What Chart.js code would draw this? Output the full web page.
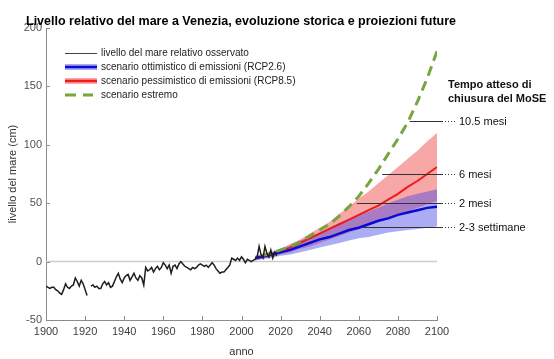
<!DOCTYPE html>
<html><head><meta charset="utf-8">
<script src="https://cdn.jsdelivr.net/npm/chart.js@4.4.0/dist/chart.umd.min.js"></script>
<style>html,body{margin:0;padding:0;background:#fff;}#wrap{width:554px;height:359px;position:relative;}</style>
</head><body><div id="wrap"><canvas id="c" width="554" height="359"></canvas></div>
<script>
const FONT = '"Liberation Sans", Arial, sans-serif';
const titleText = 'Livello relativo del mare a Venezia, evoluzione storica e proiezioni future';
const xTicks = [1900,1920,1940,1960,1980,2000,2020,2040,2060,2080,2100];
const yTicks = [-50,0,50,100,150,200];

const obsYears = [1900,1901,1902,1903,1904,1905,1906,1907,1908,1909,1910,1911,1912,1913,1914,1915,1916,1917,1918,1919,1920,1921,1922,1923,1924,1925,1926,1927,1928,1929,1930,1931,1932,1933,1934,1935,1936,1937,1938,1939,1940,1941,1942,1943,1944,1945,1946,1947,1948,1949,1950,1951,1952,1953,1954,1955,1956,1957,1958,1959,1960,1961,1962,1963,1964,1965,1966,1967,1968,1969,1970,1971,1972,1973,1974,1975,1976,1977,1978,1979,1980,1981,1982,1983,1984,1985,1986,1987,1988,1989,1990,1991,1992,1993,1994,1995,1996,1997,1998,1999,2000,2001,2002,2003,2004,2005,2006,2007,2008,2009,2010,2011,2012,2013,2014,2015,2016,2017,2018];
const obsLevel = [-21,-22,-23,-22,-22,-24,-25,-27,-28,-24,-19,-22,-23,-21,-20,-14,-17,-21,-16,-19,-24,-29,null,-21,-20,-22,-21,-23,-23,-19,-17,-20,-18,-22,-21,-17,-13,-10,-15,-18,-14,-12,-11,-16,-13,-10,-14,-16,-12,-14,-20,-5,-8,-7,-5,-9,-6,-4,-7,-5,-1,-3,-6,-3,-10,-4,-3,-6,-2,0,-2,-4,-5,-6,-7,-5,-6,-5,-3,-2,-3,-4,-3,-5,-3,-1,-3,-6,-8,-10,-9,-9,-7,-5,-3,3,2,1,3,1,4,2,-1,2,1,0,1,2,4,13,6,3,13,7,4,10,3,8,5];

const projYears = [2007,2010,2015,2020,2025,2030,2035,2040,2045,2050,2055,2060,2065,2070,2075,2080,2085,2090,2095,2100];
const rcp26Mean = [3,4,6,8,10,13,16,19,21,24,27,29,32,35,37,40,42,44,46,47];
const rcp26Low  = [1,2,3,5,6,8,10,12,14,16,18,20,21,23,25,26,27,28,29,30];
const rcp26High = [5,6,8,11,14,18,21,25,29,33,36,40,43,46,50,53,56,58,60,62];
const rcp85Mean = [3,4,6,9,12,16,20,24,28,32,36,40,44,48,53,58,64,69,75,81];
const rcp85Low  = [1,2,4,6,8,11,13,16,19,22,25,28,31,34,37,40,43,46,49,52];
const rcp85High = [5,6,8,11,15,19,24,29,34,41,47,54,60,67,74,81,88,95,103,110];

const extYears = [2010,2015,2020,2025,2030,2035,2040,2045,2050,2055,2060,2065,2070,2075,2080,2085,2090,2095,2100];
const extLevel = [5,7,10,13,17,22,27,32,39,47,56,67,79,92,105,119,137,157,180];

const zeroYears = [1900,2100];
const zeroLevel = [0,0];

const closureLevel = [120,75,50,30];
const closureStart = [2086,2072,2059,2062];
const closureLabels = ['10.5 mesi','6 mesi','2 mesi','2-3 settimane'];
const closureHeader = ['Tempo atteso di','chiusura del MoSE'];

const legendLabels = ['livello del mare relativo osservato','scenario ottimistico di emissioni (RCP2.6)','scenario pessimistico di emissioni (RCP8.5)','scenario estremo'];

const pts = (xs, ys) => xs.map((x,i)=>({x:x, y:ys[i]}));

const BLUE='#0a0ad2', RED='#ec1c1c', GREEN='#79a53f';
const BLUEBAND='rgba(70,70,230,0.45)', REDBAND='rgba(240,60,60,0.45)';

const annot = {
  id:'annot',
  afterDatasetsDraw(chart){
    const {ctx, scales:{x,y}} = chart;
    ctx.save();
    ctx.strokeStyle='#8c8c8c'; ctx.lineWidth=1;
    const b = chart.chartArea;
    xTicks.forEach(v=>{const px=Math.round(x.getPixelForValue(v))+0.5; ctx.beginPath(); ctx.moveTo(px,b.bottom); ctx.lineTo(px,b.bottom-4); ctx.stroke();});
    yTicks.forEach(v=>{const py=Math.round(y.getPixelForValue(v))+0.5; ctx.beginPath(); ctx.moveTo(b.left,py); ctx.lineTo(b.left+4,py); ctx.stroke();});
    ctx.strokeStyle='#333'; ctx.lineWidth=1;
    ctx.fillStyle='#111'; ctx.font='11px '+FONT; ctx.textBaseline='middle'; ctx.textAlign='left';
    closureLevel.forEach((v,i)=>{
      const py=Math.round(y.getPixelForValue(v))+0.5;
      const x0=x.getPixelForValue(closureStart[i]);
      const xe=x.getPixelForValue(2100)+6;
      ctx.setLineDash([]); ctx.beginPath(); ctx.moveTo(x0,py); ctx.lineTo(xe,py); ctx.stroke();
      ctx.setLineDash([1,2]); ctx.beginPath(); ctx.moveTo(xe+2,py); ctx.lineTo(xe+14,py); ctx.stroke();
      ctx.setLineDash([]);
      ctx.fillText(closureLabels[i], xe+16, py);
    });
    ctx.font='bold 11px '+FONT;
    ctx.fillText(closureHeader[0], 448, 85);
    ctx.fillText(closureHeader[1], 448, 99);
    ctx.restore();
  },
  afterDraw(chart){
    const ctx=chart.ctx;
    ctx.save();
    ctx.fillStyle='#000'; ctx.font='bold 12.5px '+FONT; ctx.textBaseline='alphabetic'; ctx.textAlign='left';
    ctx.fillText(titleText, 26, 25);
    const rows=[53,67,81,95]; const lx0=65, lx1=97, tx=101;
    ctx.font='10px '+FONT; ctx.textBaseline='middle'; ctx.fillStyle='#222';
    rows.forEach((ry,i)=>{
      if(i===0){ctx.strokeStyle='#444'; ctx.lineWidth=1; ctx.beginPath(); ctx.moveTo(lx0,ry+0.5); ctx.lineTo(lx1,ry+0.5); ctx.stroke();}
      if(i===1||i===2){
        ctx.fillStyle = i===1?BLUEBAND:REDBAND; ctx.fillRect(lx0,ry-3,lx1-lx0,6);
        ctx.strokeStyle = i===1?BLUE:RED; ctx.lineWidth=2.5; ctx.beginPath(); ctx.moveTo(lx0,ry); ctx.lineTo(lx1,ry); ctx.stroke();
      }
      if(i===3){ctx.strokeStyle=GREEN; ctx.lineWidth=3; ctx.setLineDash([11,7]); ctx.beginPath(); ctx.moveTo(lx0,ry); ctx.lineTo(lx1-4,ry); ctx.stroke(); ctx.setLineDash([]);}
      ctx.fillStyle='#222'; ctx.fillText(legendLabels[i], tx, ry);
    });
    ctx.restore();
  }
};

const ds = [
  {label:'obs', data:pts(obsYears,obsLevel), borderColor:'#1e1e1e', borderWidth:1.5, pointRadius:0, spanGaps:false, fill:false, order:0},
  {label:'ext', data:pts(extYears,extLevel), borderColor:GREEN, borderWidth:3, borderDash:[10,6], pointRadius:0, fill:false, order:1},
  {label:'rcp26', data:pts(projYears,rcp26Mean), borderColor:BLUE, borderWidth:2.5, pointRadius:0, fill:false, order:2},
  {label:'rcp85', data:pts(projYears,rcp85Mean), borderColor:RED, borderWidth:2, pointRadius:0, fill:false, order:3},
  {label:'rcp26hi', data:pts(projYears,rcp26High), borderWidth:0, borderColor:'rgba(0,0,0,0)', backgroundColor:BLUEBAND, pointRadius:0, fill:5, order:4},
  {label:'rcp26lo', data:pts(projYears,rcp26Low), borderWidth:0, borderColor:'rgba(0,0,0,0)', pointRadius:0, fill:false, order:5},
  {label:'rcp85hi', data:pts(projYears,rcp85High), borderWidth:0, borderColor:'rgba(0,0,0,0)', backgroundColor:REDBAND, pointRadius:0, fill:7, order:6},
  {label:'rcp85lo', data:pts(projYears,rcp85Low), borderWidth:0, borderColor:'rgba(0,0,0,0)', pointRadius:0, fill:false, order:7},
  {label:'zero', data:pts(zeroYears,zeroLevel), borderColor:'#cccccc', borderWidth:1.5, pointRadius:0, fill:false, order:8}
];

new Chart(document.getElementById('c'), {
  type:'line',
  data:{datasets:ds},
  options:{
    responsive:false, animation:false, devicePixelRatio:1,
    layout:{padding:{top:28,right:117,left:0,bottom:0}},
    plugins:{legend:{display:false}, tooltip:{enabled:false}, title:{display:false}},
    elements:{line:{tension:0}},
    scales:{
      x:{type:'linear', min:1900, max:2100,
        afterFit:s=>{s.height=39;},
        afterBuildTicks:s=>{s.ticks=xTicks.map(v=>({value:v}));},
        grid:{display:false, drawTicks:false},
        border:{display:true, color:'#8c8c8c', width:1},
        ticks:{font:{family:FONT,size:11}, color:'#404040', padding:5, maxRotation:0, autoSkip:false, callback:v=>String(v)},
        title:{display:true, text:'anno', font:{family:FONT,size:11}, color:'#333', padding:{top:0,bottom:0}}
      },
      y:{type:'linear', min:-50, max:200,
        afterFit:s=>{s.width=46;},
        afterBuildTicks:s=>{s.ticks=yTicks.map(v=>({value:v}));},
        grid:{display:false, drawTicks:false},
        border:{display:true, color:'#8c8c8c', width:1},
        ticks:{font:{family:FONT,size:11}, color:'#505050', padding:4, callback:v=>String(v)},
        title:{display:true, text:'livello del mare (cm)', font:{family:FONT,size:11}, color:'#333', padding:{top:6,bottom:0}}
      }
    }
  },
  plugins:[annot]
});
</script></body></html>
